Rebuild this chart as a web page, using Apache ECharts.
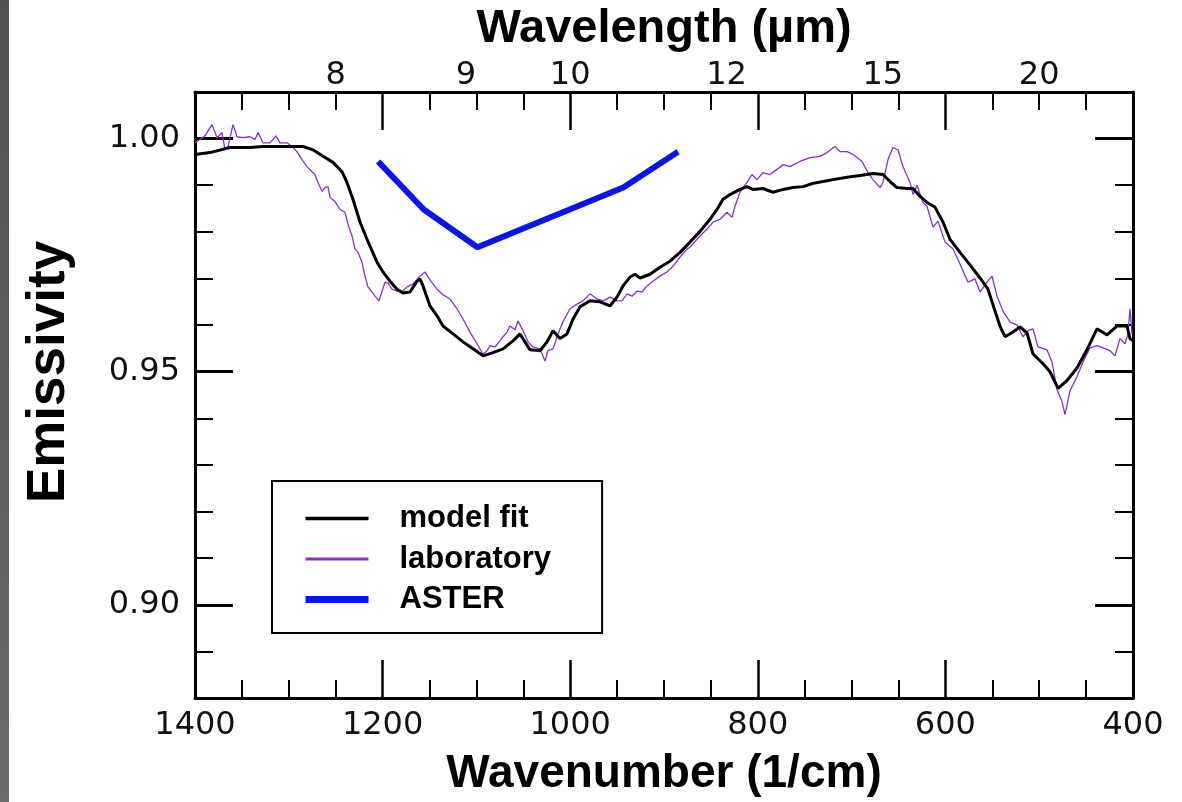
<!DOCTYPE html>
<html>
<head>
<meta charset="utf-8">
<script src="https://cdn.jsdelivr.net/npm/echarts@6/dist/echarts.min.js"></script>
<style>
html,body{margin:0;padding:0;background:#fff;}
#chart{width:1182px;height:802px;}
</style>
</head>
<body>
<div id="chart"></div>
<script>
// ---- data ----
const modelNu = [1400,1384,1362.7,1341.4,1327.5,1306.2,1284.9,1274.2,1263.5,1252.9,1243.3,1238,1231.6,1224.1,1216.6,1206,1199.6,1192.1,1184.6,1178.3,1170.8,1163.3,1160.1,1156.9,1149.5,1142,1135.6,1124.9,1114.3,1103.6,1093,1082.3,1071.6,1061,1053.5,1048.2,1042.9,1032.2,1024.7,1018.3,1010.9,1003.4,997,989.6,978.9,968.2,957.6,950.1,943.7,936.2,930.9,925.6,914.9,904.3,893.6,882.9,872.3,861.6,851,843.5,837.1,829.6,819,811.5,805.1,794.5,783.8,773.1,762.5,751.8,741.1,730.5,719.8,704.9,691,677.2,666.5,659.1,651.6,640.9,634.5,627,619.6,611.1,602.6,595.1,584.4,573.8,563.1,554.6,547.1,541.8,536.5,527.9,520.5,513,506.6,495.9,488.5,479.9,470.4,459.7,449.1,438.4,427.7,417.1,406.4,403.2,400];
const modelEm = [0.9966,0.9970,0.9981,0.9981,0.9983,0.9983,0.9983,0.9976,0.9962,0.9949,0.9929,0.9906,0.9870,0.9821,0.9784,0.9735,0.9714,0.9694,0.9677,0.9669,0.9671,0.9694,0.9699,0.9684,0.9641,0.9620,0.9598,0.9581,0.9564,0.9549,0.9534,0.9541,0.9549,0.9566,0.9581,0.9564,0.9547,0.9545,0.9564,0.9588,0.9571,0.9581,0.9613,0.9639,0.9652,0.9650,0.9641,0.9660,0.9684,0.9703,0.9709,0.9701,0.9709,0.9724,0.9737,0.9756,0.9778,0.9801,0.9827,0.9848,0.9870,0.9880,0.9891,0.9897,0.9891,0.9893,0.9885,0.9891,0.9895,0.9897,0.9904,0.9908,0.9912,0.9917,0.9921,0.9925,0.9923,0.9908,0.9895,0.9893,0.9893,0.9876,0.9863,0.9853,0.9821,0.9784,0.9756,0.9729,0.9701,0.9677,0.9630,0.9598,0.9575,0.9585,0.9596,0.9583,0.9538,0.9517,0.9500,0.9464,0.9481,0.9508,0.9547,0.9592,0.9579,0.9598,0.9598,0.9571,0.9566];

const labNu = [1400,1394.7,1389.3,1381.9,1376.5,1371.2,1368.0,1364.8,1359.5,1355.2,1348.8,1341.4,1336.0,1332.8,1327.5,1320.0,1313.6,1309.4,1301.9,1296.6,1291.3,1285.9,1280.6,1275.3,1272.1,1268.9,1264.6,1261.4,1258.2,1256.1,1250.7,1245.4,1240.1,1236.9,1232.6,1229.4,1226.2,1222.0,1218.8,1215.6,1211.3,1208.1,1203.8,1200.6,1197.4,1194.2,1190.0,1184.6,1178.3,1174.0,1167.6,1160.1,1154.8,1149.5,1142.0,1135.6,1128.1,1120.7,1114.3,1106.8,1099.4,1093.0,1088.7,1085.5,1080.2,1074.8,1071.6,1067.4,1064.2,1058.8,1055.7,1050.3,1045.0,1039.7,1032.2,1026.9,1023.7,1018.3,1013.0,1007.7,1000.2,992.8,986.4,978.9,971.4,965.0,957.6,950.1,944.8,939.4,934.1,928.8,923.5,918.1,911.7,904.3,896.8,890.4,882.9,875.5,872.3,861.6,854.2,847.8,840.3,832.8,827.5,824.3,819.0,811.5,806.2,800.9,794.5,787.0,779.5,773.1,765.7,755.0,744.3,733.7,726.2,717.7,712.4,704.9,698.5,688.9,682.5,677.2,669.7,666.5,661.2,655.9,650.5,645.2,637.7,634.5,630.3,623.9,619.6,613.2,607.9,600.4,591.9,584.4,575.9,568.4,563.1,555.6,550.3,545.0,538.6,531.1,523.7,517.3,511.9,506.6,501.3,491.7,486.4,481.0,475.7,472.5,467.2,459.7,453.3,445.8,438.4,432.0,424.5,419.2,413.9,408.5,405.3,403.2,401.1];
const labEm = [0.9991,0.9998,1.0006,1.0030,1.0002,1.0013,0.9976,0.9983,1.0030,1.0004,1.0002,1.0004,0.9998,1.0013,0.9991,0.9991,1.0006,0.9991,0.9991,0.9983,0.9972,0.9955,0.9940,0.9929,0.9923,0.9906,0.9887,0.9895,0.9897,0.9874,0.9865,0.9848,0.9842,0.9816,0.9791,0.9763,0.9756,0.9735,0.9705,0.9682,0.9671,0.9662,0.9652,0.9673,0.9692,0.9690,0.9677,0.9673,0.9673,0.9682,0.9688,0.9705,0.9714,0.9697,0.9677,0.9665,0.9656,0.9635,0.9613,0.9585,0.9560,0.9538,0.9545,0.9556,0.9553,0.9566,0.9575,0.9585,0.9598,0.9590,0.9609,0.9588,0.9564,0.9553,0.9549,0.9523,0.9545,0.9549,0.9581,0.9607,0.9635,0.9645,0.9652,0.9667,0.9656,0.9652,0.9660,0.9652,0.9652,0.9667,0.9662,0.9673,0.9671,0.9684,0.9694,0.9705,0.9714,0.9726,0.9746,0.9763,0.9767,0.9791,0.9806,0.9821,0.9827,0.9842,0.9831,0.9855,0.9885,0.9906,0.9923,0.9912,0.9927,0.9923,0.9934,0.9944,0.9940,0.9951,0.9959,0.9962,0.9970,0.9983,0.9972,0.9972,0.9966,0.9951,0.9927,0.9912,0.9895,0.9906,0.9955,0.9981,0.9976,0.9940,0.9906,0.9880,0.9900,0.9863,0.9855,0.9810,0.9823,0.9778,0.9763,0.9731,0.9692,0.9699,0.9671,0.9692,0.9705,0.9662,0.9630,0.9607,0.9600,0.9575,0.9588,0.9592,0.9553,0.9547,0.9521,0.9462,0.9436,0.9408,0.9459,0.9489,0.9521,0.9551,0.9556,0.9551,0.9545,0.9534,0.9571,0.9560,0.9581,0.9635,0.9581];

const asterNu = [1204.8,1156.1,1098.9,943.4,885.0];
const asterEm = [0.9951,0.9848,0.9767,0.9895,0.9972];

const wavelengthLabels = [8,9,10,12,15,20];          // µm, top axis
const emissivityLabels = [0.90,0.95,1.00];           // labelled y ticks
const seriesNames = ['model fit','laboratory','ASTER'];

// ---- chart ----
const zip = (a,b) => a.map((v,i) => [v,b[i]]);
const FONT = "'Liberation Sans', Arial, sans-serif";
const TICKFONT = "'DejaVu Sans', 'Liberation Sans', sans-serif";
const chart = echarts.init(document.getElementById('chart'), null, {renderer:'canvas'});

const lineAxis = {show:true, lineStyle:{color:'#000', width:3}};
const xCommon = {
  type:'value', min:400, max:1400, interval:200, inverse:true,
  axisLine: lineAxis,
  axisTick:{show:true, inside:true, length:38, lineStyle:{color:'#000', width:2.5}},
  minorTick:{show:true, splitNumber:4, length:18, lineStyle:{color:'#000', width:2}},
  splitLine:{show:false}, minorSplitLine:{show:false}
};
const yMinor = {
  type:'value', min:0.88, max:1.01, interval:0.01,
  axisLine: lineAxis,
  axisTick:{show:true, inside:true, length:18, lineStyle:{color:'#000', width:2}},
  splitLine:{show:false}
};
const yMajor = {
  type:'value', min:0.88, max:1.01, interval:0.01,
  axisLine:{show:false},
  axisTick:{show:true, inside:true, length:38, customValues: emissivityLabels, lineStyle:{color:'#000', width:3}},
  axisLabel:{show:false},
  splitLine:{show:false}
};

chart.setOption({
  animation:false,
  backgroundColor:'#fff',
  grid:{left:195, right:49, top:92, bottom:102},
  graphic:[{type:'rect', left:0, top:0, shape:{width:9, height:802},
    style:{fill:new echarts.graphic.LinearGradient(0,0,0,1,[{offset:0,color:'#525252'},{offset:1,color:'#6a6a6a'}])}, silent:true}],
  legend:{
    orient:'vertical', left:272, top:481,
    data:[
      {name:seriesNames[0], lineStyle:{width:3.5}},
      {name:seriesNames[1], lineStyle:{width:3}},
      {name:seriesNames[2], lineStyle:{width:7}}
    ],
    lineStyle:{width:'inherit'},
    itemWidth:63, itemHeight:14, itemGap:9.5,
    padding:[22, 51, 18, 30],
    itemStyle:{opacity:0},
    borderColor:'#000', borderWidth:2, backgroundColor:'#fff',
    textStyle:{fontFamily:FONT, fontWeight:'bold', fontSize:31, color:'#000', lineHeight:31, padding:[0,0,0,26]},
    selectedMode:false
  },
  xAxis:[
    Object.assign({}, xCommon, {
      position:'bottom',
      axisLabel:{fontFamily:TICKFONT, fontSize:32, color:'#111', margin:12, formatter: v => String(v)},
      name:'Wavenumber (1/cm)', nameLocation:'middle', nameGap:53,
      nameTextStyle:{fontFamily:FONT, fontWeight:'bold', fontSize:46, color:'#000'}
    }),
    Object.assign({}, xCommon, {
      position:'top',
      axisLabel:{fontFamily:TICKFONT, fontSize:32, color:'#111', margin:0,
        customValues: wavelengthLabels.map(l => 10000/l),
        formatter: v => String(Math.round(10000/v))},
      name:'Wavelength (\u00b5m)', nameLocation:'middle', nameGap:39,
      nameTextStyle:{fontFamily:FONT, fontWeight:'bold', fontSize:47, color:'#000'}
    })
  ],
  yAxis:[
    Object.assign({}, yMinor, {
      position:'left',
      axisLabel:{fontFamily:TICKFONT, fontSize:32, color:'#111', margin:15,
        customValues: emissivityLabels, formatter: v => v.toFixed(2)},
      name:'Emissivity', nameLocation:'middle', nameGap:119, nameRotate:90,
      nameTextStyle:{fontFamily:FONT, fontWeight:'bold', fontSize:53, color:'#000', padding:[0,0,0,46]}
    }),
    Object.assign({}, yMinor, {position:'right', axisLabel:{show:false}}),
    Object.assign({}, yMajor, {position:'left'}),
    Object.assign({}, yMajor, {position:'right'})
  ],
  series:[
    {name:seriesNames[0], type:'line', data:zip(modelNu, modelEm), xAxisIndex:0, yAxisIndex:0,
     symbol:'none', showSymbol:false, z:4, lineStyle:{color:'#000', width:3}, itemStyle:{color:'#000'}},
    {name:seriesNames[1], type:'line', data:zip(labNu, labEm), xAxisIndex:0, yAxisIndex:0,
     symbol:'none', showSymbol:false, z:3, lineStyle:{color:'#8a2fc8', width:1.3}, itemStyle:{color:'#8a2fc8'}},
    {name:seriesNames[2], type:'line', data:zip(asterNu, asterEm), xAxisIndex:0, yAxisIndex:0,
     symbol:'none', showSymbol:false, z:5, lineStyle:{color:'#0a16e0', width:6}, itemStyle:{color:'#0a16e0'}}
  ]
});
</script>
</body>
</html>
